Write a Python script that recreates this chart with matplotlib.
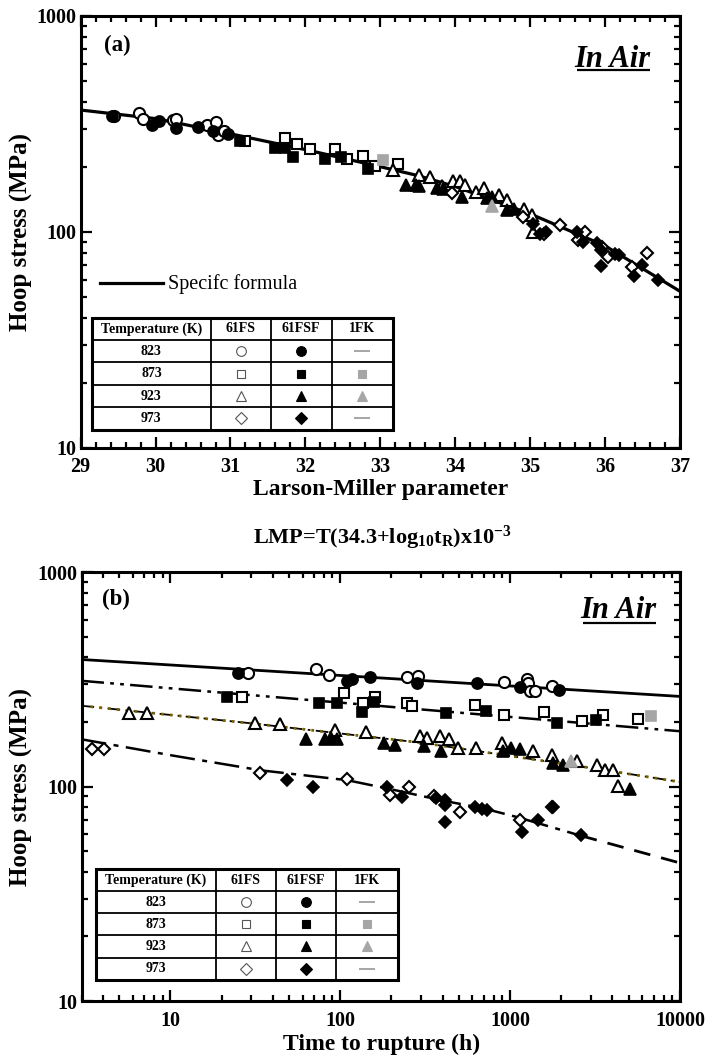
import numpy as np
import matplotlib
matplotlib.use("Agg")
import matplotlib.pyplot as plt
from matplotlib.ticker import FixedLocator, FixedFormatter, NullFormatter, MultipleLocator, LogLocator
from matplotlib.patches import Rectangle

plt.rcParams['font.family'] = ['Liberation Serif', 'DejaVu Serif']
plt.rcParams['mathtext.fontset'] = 'custom'
plt.rcParams['mathtext.rm'] = 'Liberation Serif:bold'
plt.rcParams['mathtext.it'] = 'Liberation Serif:bold'
plt.rcParams['mathtext.bf'] = 'Liberation Serif:bold'

# ---------------- Panel (a): stress vs Larson-Miller parameter ----------------
lmp_curve = [29, 30, 31, 32, 33, 33.5, 34, 35, 36, 37]
stress_curve = [366, 334, 284, 240, 200, 182, 162, 121, 86, 53]

a823_open_x = [29.45, 29.78, 29.83, 30.23, 30.27, 30.69, 30.80, 30.83, 30.91]
a823_open_y = [342, 354, 333, 330, 333, 313, 321, 279, 294]
a823_fill_x = [29.42, 29.95, 30.04, 30.27, 30.56, 30.76, 30.96]
a823_fill_y = [344, 313, 324, 302, 305, 292, 284]

a873_open_x = [31.19, 31.73, 31.89, 32.06, 32.40, 32.55, 32.77, 32.93, 33.24]
a873_open_y = [263, 271, 254, 241, 241, 216, 224, 201, 206]
a873_fill_x = [31.13, 31.59, 31.73, 31.83, 32.26, 32.48, 32.83]
a873_fill_y = [263, 245, 243, 221, 216, 222, 196]
a873_gray_x = [33.04]
a873_gray_y = [215]

a923_open_x = [33.17, 33.51, 33.66, 33.82, 33.97, 34.07, 34.13, 34.28, 34.38, 34.59, 34.69, 34.92, 35.02, 35.04]
a923_open_y = [193, 183, 179, 162, 172, 172, 164, 152, 160, 148, 140, 128, 119, 100]
a923_fill_x = [33.34, 33.48, 33.51, 33.76, 33.84, 34.09, 34.42, 34.49, 34.69, 34.78]
a923_fill_y = [164, 164, 162, 159, 157, 145, 143, 145, 126, 128]
a923_gray_x = [34.49]
a923_gray_y = [131]

a973_open_x = [33.95, 34.90, 35.18, 35.40, 35.64, 35.73, 35.96, 36.04, 36.36, 36.56]
a973_open_y = [151, 117, 98, 107, 91.5, 100, 85, 76.6, 68.9, 79.5]
a973_fill_x = [35.04, 35.13, 35.21, 35.63, 35.71, 35.89, 35.94, 36.13, 36.18, 35.94, 36.39, 36.49, 36.71]
a973_fill_y = [109, 98, 100, 100, 90, 88.4, 82, 78.9, 78, 69.3, 62.5, 70.2, 59.7]

# ---------------- Panel (b): stress vs time to rupture ----------------
t823_open = [28.7, 71.9, 85.4, 246, 285, 922, 1254, 1282, 1312, 1404, 1758]
s823_open = [340, 354, 330, 325, 328, 308, 316, 305, 280, 280, 294]
t823_fill = [25.1, 109, 117, 150, 282, 637, 1135, 1950]
s823_fill = [340, 311, 318, 324, 305, 303, 292, 281]

t873_open = [26.4, 105, 137, 161, 246, 264, 622, 922, 1585, 2660, 3540, 5690]
s873_open = [262, 274, 245, 261, 244, 238, 240, 216, 223, 201, 215, 206]
t873_fill = [21.5, 74.5, 95.5, 134, 157, 420, 723, 1885, 3210]
s873_fill = [262, 245, 245, 223, 249, 219, 226, 197, 204]
t873_gray = [6730]
s873_gray = [213]

t923_open = [5.69, 7.3, 31.6, 44, 93.5, 142, 296, 324, 384, 439, 490, 631, 893, 1371, 1757, 2490, 3265, 3625, 4056, 4340]
s923_open = [220, 220, 197, 196, 184, 180, 172, 168, 172, 166, 151, 151, 159, 147, 141, 132, 126, 120, 120, 101]
t923_fill = [63, 81.7, 88, 95.5, 180, 211, 309, 391, 904, 1008, 1146, 1799, 2044, 5080]
s923_fill = [166, 166, 168, 166, 159, 156, 155, 147, 147, 151, 150, 129, 126, 97.3]
t923_gray = [2275]
s923_gray = [132]

t973_open = [3.46, 4.05, 33.8, 109, 197, 253, 354, 510, 1150, 1763]
s973_open = [149, 149, 115, 108, 91.4, 100, 90.1, 76.2, 69.5, 80]
t973_fill = [48.5, 69, 188, 230, 365, 415, 415, 415, 620, 687, 730, 1170, 1464, 1790, 2596]
s973_fill = [107, 100, 100, 89.5, 88.3, 86.6, 81.7, 68.6, 80, 78.4, 77.6, 61.6, 69.5, 80, 59.3]

line823_t = [3, 10000]
line823_s = [391, 263]
line873_t = [3, 10000]
line873_s = [311, 181]
line923_t = [3, 30, 300, 3000, 10000]
line923_s = [238, 197, 160, 122, 105]
line973_t = [3, 10, 34, 110, 200, 400, 700, 1100, 2600, 10000]
line973_s = [166, 140, 119, 107, 97, 86, 79, 72, 59, 44]

temps = ['823', '873', '923', '973']
headers = ['Temperature (K)', '61FS', '61FSF', '1FK']

GRAY = '#a6a6a6'
MS = {'o': 8, 's': 7.5, '^': 8.5, 'D': 6.5}


def pts(ax, x, y, m, filled, color='k', z=3):
    if filled:
        ax.plot(x, y, ls='none', marker=m, ms=MS[m], mfc=color, mec=color, mew=1.2, zorder=z)
    else:
        ax.plot(x, y, ls='none', marker=m, ms=MS[m], mfc='white', mec='k', mew=1.5, zorder=z)


def style_axes(ax):
    for s in ax.spines.values():
        s.set_linewidth(2.2)
    ax.tick_params(which='both', direction='in', top=True, right=True, width=1.6, labelsize=14.5)
    ax.tick_params(which='major', length=8)
    ax.tick_params(which='minor', length=4.5)
    ax.tick_params(axis='x', pad=7)
    ax.tick_params(axis='y', pad=3)
    for lab in ax.get_xticklabels() + ax.get_yticklabels():
        lab.set_fontweight('bold')


def draw_table(ax, x0, x1, cols, y0, y1):
    xs = [x0] + cols + [x1]
    ys = np.linspace(y1, y0, 6)
    tr = ax.transAxes
    ax.add_patch(Rectangle((x0, y0), x1 - x0, y1 - y0, transform=tr, fc='white', ec='none', zorder=4))
    for yy in ys[1:-1]:
        ax.plot([x0, x1], [yy, yy], transform=tr, color='k', lw=1.3, zorder=5, solid_capstyle='butt')
    for xx in cols:
        ax.plot([xx, xx], [y0, y1], transform=tr, color='k', lw=1.3, zorder=5, solid_capstyle='butt')
    ax.add_patch(Rectangle((x0, y0), x1 - x0, y1 - y0, transform=tr, fill=False, ec='k', lw=2.2, zorder=6))
    cx = [(xs[i] + xs[i + 1]) / 2 for i in range(4)]
    cy = [(ys[i] + ys[i + 1]) / 2 for i in range(5)]
    for i, h in enumerate(headers):
        ax.text(cx[i], cy[0], h, transform=tr, ha='center', va='center', fontsize=10, fontweight='bold', zorder=7)
    marks = ['o', 's', '^', 'D']
    sizes = {'o': 7, 's': 6, '^': 7, 'D': 6}
    for r, tlab in enumerate(temps):
        yy = cy[r + 1]
        ax.text(cx[0], yy, tlab, transform=tr, ha='center', va='center', fontsize=10, fontweight='bold', zorder=7)
        m = marks[r]
        ax.plot([cx[1]], [yy], transform=tr, marker=m, ms=sizes[m], mfc='white', mec='#555555', mew=0.8, ls='none', zorder=7)
        ax.plot([cx[2]], [yy], transform=tr, marker=m, ms=sizes[m], mfc='k', mec='k', mew=0.8, ls='none', zorder=7)
        if tlab in ('873', '923'):
            ax.plot([cx[3]], [yy], transform=tr, marker=m, ms=sizes[m], mfc=GRAY, mec=GRAY, mew=0.8, ls='none', zorder=7)
        else:
            ax.plot([cx[3]], [yy], transform=tr, marker='_', ms=12, mec=GRAY, mew=1.4, ls='none', zorder=7)


fig = plt.figure(figsize=(7.07, 10.64), dpi=100)
axA = fig.add_axes([0.1141, 0.5792, 0.8477, 0.4060])
axB = fig.add_axes([0.1153, 0.0592, 0.8466, 0.4032])

# ---- panel (a)
axA.set_yscale('log')
axA.plot(lmp_curve, stress_curve, color='k', lw=2.3, zorder=2)
pts(axA, a823_open_x, a823_open_y, 'o', False)
pts(axA, a823_fill_x, a823_fill_y, 'o', True)
pts(axA, a873_open_x, a873_open_y, 's', False)
pts(axA, a873_fill_x, a873_fill_y, 's', True)
pts(axA, a873_gray_x, a873_gray_y, 's', True, GRAY)
pts(axA, a923_open_x, a923_open_y, '^', False)
pts(axA, a923_fill_x, a923_fill_y, '^', True)
pts(axA, a923_gray_x, a923_gray_y, '^', True, GRAY)
pts(axA, a973_open_x, a973_open_y, 'D', False)
pts(axA, a973_fill_x, a973_fill_y, 'D', True)
axA.set_xlim(29, 37)
axA.set_ylim(10, 1000)
axA.xaxis.set_major_locator(FixedLocator(list(range(29, 38))))
axA.xaxis.set_minor_locator(MultipleLocator(0.2))
axA.yaxis.set_major_locator(FixedLocator([10, 100, 1000]))
axA.yaxis.set_major_formatter(FixedFormatter(['10', '100', '1000']))
axA.yaxis.set_minor_locator(LogLocator(base=10, subs=np.arange(2, 10)))
axA.yaxis.set_minor_formatter(NullFormatter())
style_axes(axA)

axA.text(0.039, 0.932, '(a)', transform=axA.transAxes, fontsize=16.5, fontweight='bold', va='center', ha='left')
tA = axA.text(0.95, 0.882, 'In Air', transform=axA.transAxes, fontsize=22, fontweight='bold',
              fontstyle='italic', ha='right', va='baseline')
axA.plot([0.032, 0.137], [0.382, 0.382], transform=axA.transAxes, color='k', lw=2.3)
axA.text(0.146, 0.380, 'Specifc formula', transform=axA.transAxes, fontsize=14.5, fontweight='normal',
         va='center', ha='left')
draw_table(axA, 0.019, 0.521, [0.217, 0.317, 0.419], 0.042, 0.301)

# ---- panel (b)
axB.set_xscale('log')
axB.set_yscale('log')
axB.plot(line823_t, line823_s, color='k', lw=2.0, zorder=2)
axB.plot(line873_t, line873_s, color='k', lw=1.8, ls=(0, (9, 2.5, 1.5, 2.5, 1.5, 2.5)), zorder=2)
axB.plot(line923_t, line923_s, color='k', lw=1.3, ls=(0, (7, 3, 1.5, 3)), zorder=2)
axB.plot(line923_t, line923_s, color='#7a6400', lw=2.0, ls=(0, (1, 2.2)), zorder=2)
axB.plot(line973_t[:9], line973_s[:9], color='k', lw=1.8, ls=(0, (10, 3, 2, 3)), zorder=2)
axB.plot(line973_t[8:], line973_s[8:], color='k', lw=2.0, ls=(0, (6, 4)), zorder=2)

pts(axB, t823_open, s823_open, 'o', False)
pts(axB, t823_fill, s823_fill, 'o', True)
pts(axB, t873_open, s873_open, 's', False)
pts(axB, t873_fill, s873_fill, 's', True)
pts(axB, t873_gray, s873_gray, 's', True, GRAY)
pts(axB, t923_open, s923_open, '^', False)
pts(axB, t923_fill, s923_fill, '^', True)
pts(axB, t923_gray, s923_gray, '^', True, GRAY)
pts(axB, t973_open, s973_open, 'D', False)
pts(axB, t973_fill, s973_fill, 'D', True)
axB.set_xlim(3, 10000)
axB.set_ylim(10, 1000)
axB.xaxis.set_major_locator(FixedLocator([10, 100, 1000, 10000]))
axB.xaxis.set_major_formatter(FixedFormatter(['10', '100', '1000', '10000']))
axB.xaxis.set_minor_locator(LogLocator(base=10, subs=np.arange(2, 10)))
axB.xaxis.set_minor_formatter(NullFormatter())
axB.yaxis.set_major_locator(FixedLocator([10, 100, 1000]))
axB.yaxis.set_major_formatter(FixedFormatter(['10', '100', '1000']))
axB.yaxis.set_minor_locator(LogLocator(base=10, subs=np.arange(2, 10)))
axB.yaxis.set_minor_formatter(NullFormatter())
style_axes(axB)

axB.text(0.034, 0.937, '(b)', transform=axB.transAxes, fontsize=16.5, fontweight='bold', va='center', ha='left')
tB = axB.text(0.96, 0.892, 'In Air', transform=axB.transAxes, fontsize=22, fontweight='bold',
              fontstyle='italic', ha='right', va='baseline')
draw_table(axB, 0.025, 0.528, [0.224, 0.325, 0.425], 0.050, 0.307)

# labels
fig.text(0.031, 1 - 231.7 / 1064, 'Hoop stress (MPa)', rotation=90, ha='center', va='center',
         fontsize=18, fontweight='bold')
fig.text(0.031, 1 - 786.5 / 1064, 'Hoop stress (MPa)', rotation=90, ha='center', va='center',
         fontsize=18, fontweight='bold')
fig.text(0.539, 1 - 489 / 1064, 'Larson-Miller parameter', ha='center', va='center',
         fontsize=17, fontweight='bold')
fig.text(0.541, 1 - 538 / 1064, r'LMP=T(34.3+log$_{\mathrm{10}}$t$_{\mathrm{R}}$)x10$^{\mathrm{-3}}$',
         ha='center', va='center', fontsize=16, fontweight='bold')
fig.text(0.54, 1 - 1044 / 1064, 'Time to rupture (h)', ha='center', va='center',
         fontsize=17, fontweight='bold')

# underline "In Air"
fig.canvas.draw()
for ax, t, uy in ((axA, tA, 0.874), (axB, tB, 0.882)):
    bb = t.get_window_extent().transformed(ax.transAxes.inverted())
    ax.plot([bb.x0 + 0.005, bb.x1], [uy, uy], transform=ax.transAxes, color='k', lw=1.6,
            clip_on=False, solid_capstyle='butt')

fig.savefig('out.png', dpi=100)
